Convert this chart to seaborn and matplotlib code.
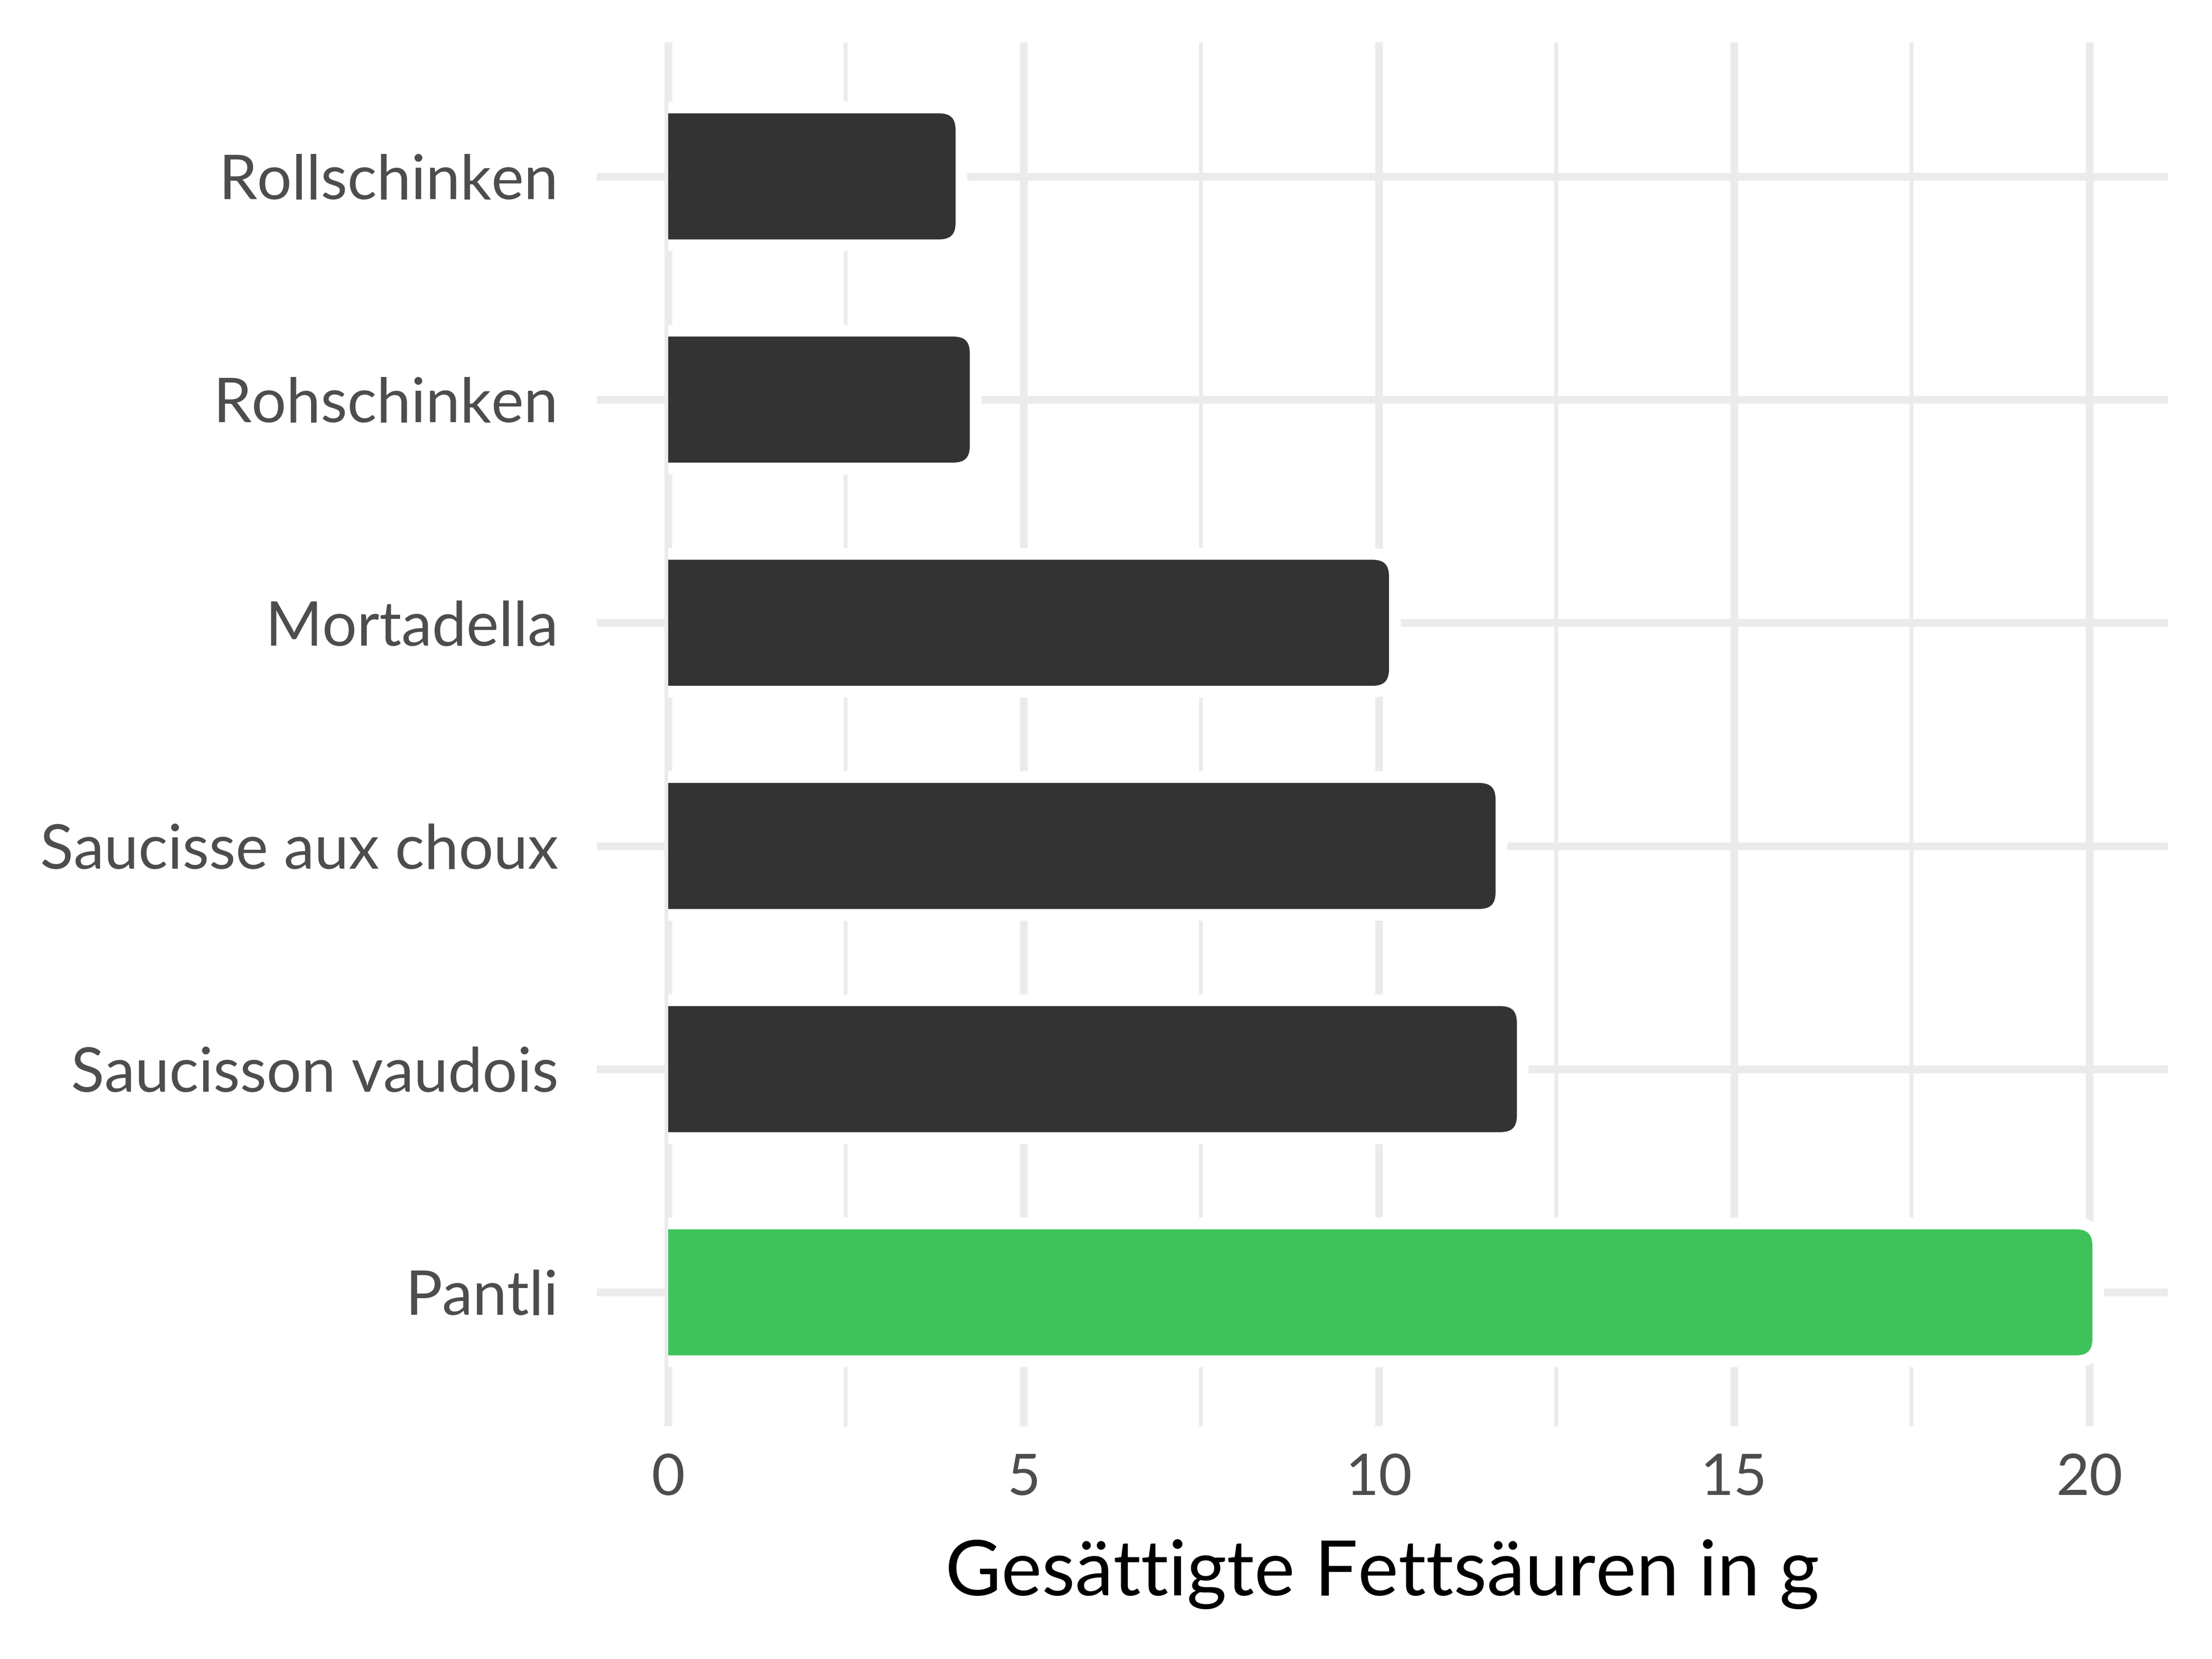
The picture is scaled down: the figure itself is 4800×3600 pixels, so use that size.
import numpy as np
import matplotlib
matplotlib.use("Agg")
import matplotlib.pyplot as plt
from matplotlib.patches import FancyBboxPatch, Rectangle
from matplotlib.ticker import MultipleLocator
import seaborn as sns

# data
lebensmittel = ["Rollschinken", "Rohschinken", "Mortadella",
                "Saucisse aux choux", "Saucisson vaudois", "Pantli"]
werte = [4.1, 4.3, 10.2, 11.7, 12.0, 20.1]
farben = ["#333333", "#333333", "#333333", "#333333", "#333333", "#3EC35A"]
x_ticks = [0, 5, 10, 15, 20]
x_label = "Gesättigte Fettsäuren in g"

sns.set_theme(style="whitegrid")
plt.rcParams['font.family'] = ['Lato', 'DejaVu Sans']

fig, ax = plt.subplots(figsize=(16, 12), dpi=300)
fig.subplots_adjust(left=0.2698, right=0.980, top=0.9744, bottom=0.1403)

sns.barplot(x=werte, y=lebensmittel, hue=lebensmittel, palette=farben,
            orient="h", width=0.6, saturation=1, legend=False, ax=ax)

ax.set_xlim(-1.005, 21.105)
ax.set_ylim(5.6, -0.6)

# grid like ggplot theme_minimal
ax.set_axisbelow(True)
ax.set_xticks(x_ticks)
ax.xaxis.set_minor_locator(MultipleLocator(2.5))
ax.grid(True, which="major", color="#EBEBEB", linewidth=4)
ax.grid(True, which="minor", axis="x", color="#EBEBEB", linewidth=2)
for s in ax.spines.values():
    s.set_visible(False)
ax.tick_params(axis="both", which="both", length=0, colors="#4D4D4D")
ax.tick_params(axis="y", labelsize=32, pad=20)
ax.tick_params(axis="x", labelsize=30, pad=14)
ax.set_ylabel("")
ax.set_xlabel(x_label, fontsize=40, color="black", labelpad=18)

# swap plain bars for rounded ones with a white halo
p0 = ax.transData.transform((0, 0))
p1 = ax.transData.transform((1, 1))
px_x = abs(p1[0] - p0[0])
px_y = abs(p1[1] - p0[1])
r_px = 44
rx = r_px / px_x
ry = r_px / px_y
px2pt = 72 / 300

clip = Rectangle((0, -10), 1000, 100, transform=ax.transData)
bars = list(ax.patches)
for bar in bars:
    x, y = bar.get_x(), bar.get_y()
    w, h = bar.get_width(), bar.get_height()
    col = bar.get_facecolor()
    bar.remove()
    halo = FancyBboxPatch((x - rx, y), w + rx, h,
                          boxstyle=f"round,pad=0,rounding_size={rx}",
                          mutation_aspect=ry / rx,
                          facecolor="white", edgecolor="white",
                          linewidth=34 * px2pt, zorder=2)
    fill = FancyBboxPatch((x - rx, y), w + rx, h,
                          boxstyle=f"round,pad=0,rounding_size={rx}",
                          mutation_aspect=ry / rx,
                          facecolor=col, edgecolor="white",
                          linewidth=17 * px2pt, zorder=3)
    for p in (halo, fill):
        ax.add_patch(p)
        p.set_clip_path(clip)

fig.savefig("out.png", dpi=300, facecolor="white")
